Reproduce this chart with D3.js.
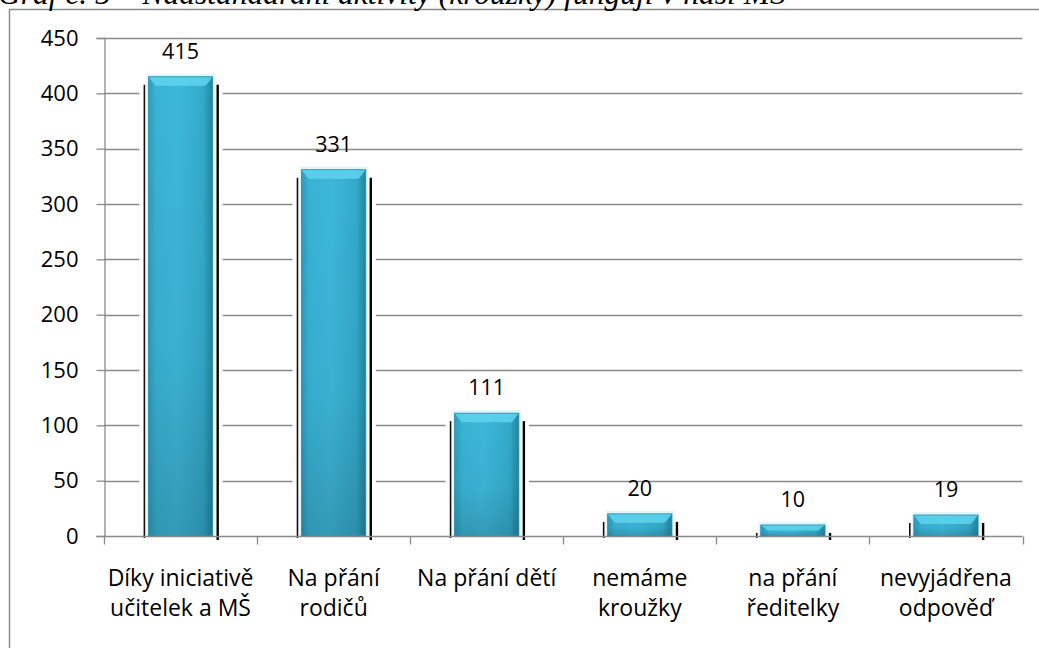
<!DOCTYPE html>
<meta charset="utf-8">
<style>
body { margin: 0; background: #fff; }
svg text { font-family: "Open Sans", "Noto Sans", sans-serif; fill: #000; }
.title { font-family: "Liberation Serif", serif; font-style: italic; font-size: 31.5px; }
.tick text { font-size: 22px; }
.val { font-size: 21.5px; text-anchor: middle; }
.cat { font-size: 23px; text-anchor: middle; }
</style>
<svg class="chart"></svg>
<script src="https://cdn.jsdelivr.net/npm/d3@7"></script>
<script>

var categories = [
  ["Díky iniciativě", "učitelek a MŠ"],
  ["Na přání", "rodičů"],
  ["Na přání dětí"],
  ["nemáme", "kroužky"],
  ["na přání", "ředitelky"],
  ["nevyjádřena", "odpověď"]
];
var values = [415, 331, 111, 20, 10, 19];
var yTicks = [0, 50, 100, 150, 200, 250, 300, 350, 400, 450];

var width = 1039,
    height = 648;
var margin = {left: 104, right: 16, top: 38, bottom: 112};

var svg = d3.select(".chart")
    .attr("width", width)
    .attr("height", height);

var defs = svg.append("defs");
var g1 = defs.append("linearGradient").attr("id", "barH").attr("x1", 0).attr("x2", 1).attr("y1", 0).attr("y2", 0);
g1.append("stop").attr("offset", "0").attr("stop-color", "#2b9cbd");
g1.append("stop").attr("offset", "0.12").attr("stop-color", "#39b2d4");
g1.append("stop").attr("offset", "0.45").attr("stop-color", "#3db8da");
g1.append("stop").attr("offset", "0.85").attr("stop-color", "#33aacb");
g1.append("stop").attr("offset", "1").attr("stop-color", "#23869f");
var g2 = defs.append("linearGradient").attr("id", "barV").attr("x1", 0).attr("x2", 0).attr("y1", 0).attr("y2", 1);
g2.append("stop").attr("offset", "0").attr("stop-color", "#000").attr("stop-opacity", 0);
g2.append("stop").attr("offset", "0.6").attr("stop-color", "#000").attr("stop-opacity", 0.04);
g2.append("stop").attr("offset", "1").attr("stop-color", "#000").attr("stop-opacity", 0.16);

// chart frame
svg.append("path")
    .attr("d", "M9.5," + height + "V9.5H" + width)
    .attr("fill", "none").attr("stroke", "#8c8c8c").attr("stroke-width", 1.5);

// title (cut off at top, as in the source)
svg.append("text").attr("class", "title")
    .attr("x", -2).attr("y", 4)
    .text("Graf č. 5 – Nadstandardní aktivity (kroužky) fungují v naší MŠ");

var x = d3.scaleBand()
    .domain(d3.range(values.length))
    .range([margin.left, width - margin.right - 0.5])
    .paddingInner(0.58).paddingOuter(0.29);

var xb = d3.scaleBand()
    .domain(d3.range(values.length))
    .range([margin.left, width - margin.right - 0.5]);

var y = d3.scaleLinear()
    .domain([0, 450])
    .range([height - margin.bottom, margin.top]);

// gridlines
svg.append("g")
  .selectAll("line")
  .data(yTicks.slice(1))
  .enter().append("line")
    .attr("x1", margin.left).attr("x2", width - margin.right - 0.5)
    .attr("y1", function(d) { return Math.round(y(d)) + 0.5; })
    .attr("y2", function(d) { return Math.round(y(d)) + 0.5; })
    .attr("stroke", "#8a8a8a").attr("stroke-width", 1.3);

// y axis
var yAxis = svg.append("g")
    .attr("transform", "translate(" + (margin.left + 0.5) + ",0)")
    .call(d3.axisLeft(y).tickValues(yTicks).tickSize(8).tickPadding(18));
yAxis.select(".domain").attr("stroke", "#8a8a8a").attr("stroke-width", 1.3);
yAxis.selectAll(".tick line").attr("stroke", "#8a8a8a").attr("stroke-width", 1.3);
yAxis.selectAll(".tick text").attr("font-family", null).attr("font-size", null);

var bw = x.bandwidth();
var bar = svg.append("g").selectAll("g")
    .data(values)
  .enter().append("g");

// white gap in the gridlines around each bar
bar.append("rect")
    .attr("x", function(d, i) { return x(i) - 9; })
    .attr("y", function(d) { return y(d) - 4; })
    .attr("width", bw + 19)
    .attr("height", function(d) { return y(0) - y(d) + 3; })
    .attr("fill", "#fff");

// x axis
var y0 = Math.round(y(0)) + 0.5;
svg.append("line")
    .attr("x1", margin.left).attr("x2", width - margin.right - 0.5)
    .attr("y1", y0).attr("y2", y0)
    .attr("stroke", "#8a8a8a").attr("stroke-width", 1.3);
svg.append("g").selectAll("line")
  .data(d3.range(values.length + 1))
  .enter().append("line")
    .attr("x1", function(i) { return Math.round(margin.left + i * xb.step()) + 0.5; })
    .attr("x2", function(i) { return Math.round(margin.left + i * xb.step()) + 0.5; })
    .attr("y1", y0).attr("y2", y0 + 8)
    .attr("stroke", "#8a8a8a").attr("stroke-width", 1.3);

// shadow edges
bar.append("line")
    .attr("x1", function(d, i) { return x(i) - 4; })
    .attr("x2", function(d, i) { return x(i) - 4; })
    .attr("y1", function(d) { return y(d) + 8; })
    .attr("y2", y(0) + 2)
    .attr("stroke", "#111").attr("stroke-width", 1.6);
bar.append("line")
    .attr("x1", function(d, i) { return x(i) + bw + 5; })
    .attr("x2", function(d, i) { return x(i) + bw + 5; })
    .attr("y1", function(d) { return y(d) + 8; })
    .attr("y2", y(0) + 4)
    .attr("stroke", "#000").attr("stroke-width", 2.4);
// light halo
bar.append("rect")
    .attr("x", function(d, i) { return x(i) - 2; })
    .attr("y", function(d) { return y(d) - 3; })
    .attr("width", bw + 4)
    .attr("height", function(d) { return y(0) - y(d) + 3; })
    .attr("fill", "#e3f5fa");
bar.append("rect")
    .attr("x", function(d, i) { return x(i); })
    .attr("y", function(d) { return y(d); })
    .attr("width", bw)
    .attr("height", function(d) { return y(0) - y(d); })
    .attr("fill", "url(#barH)");
bar.append("rect")
    .attr("x", function(d, i) { return x(i); })
    .attr("y", function(d) { return y(d); })
    .attr("width", bw)
    .attr("height", function(d) { return y(0) - y(d); })
    .attr("fill", "url(#barV)");
// top bevel
bar.append("path")
    .attr("d", function(d, i) {
      var x0 = x(i), t = y(d), h = Math.min(9, (y(0) - y(d)) / 2);
      return "M" + x0 + "," + t + "H" + (x0 + bw) + "L" + (x0 + bw - 7) + "," + (t + h) +
             "H" + (x0 + 7) + "Z";
    })
    .attr("fill", "#5dd2ec").attr("opacity", 0.9);
bar.append("rect")
    .attr("x", function(d, i) { return x(i); })
    .attr("y", function(d) { return y(d); })
    .attr("width", bw)
    .attr("height", function(d) { return y(0) - y(d); })
    .attr("fill", "none").attr("stroke", "#2a8faa").attr("stroke-width", 0.8);

// value labels
bar.append("text").attr("class", "val")
    .attr("x", function(d, i) { return x(i) + bw / 2; })
    .attr("y", function(d) { return y(d) - 18; })
    .text(function(d) { return d; });

// category labels
var cat = svg.append("g").selectAll("text")
    .data(categories)
  .enter().append("text").attr("class", "cat")
    .attr("x", function(d, i) { return xb(i) + xb.bandwidth() / 2; })
    .attr("y", y(0) + 50);
cat.selectAll("tspan")
    .data(function(d) { return d; })
  .enter().append("tspan")
    .attr("x", function() { return this.parentNode.getAttribute("x"); })
    .attr("dy", function(d, j) { return j ? 30 : 0; })
    .text(function(d) { return d; });

</script>
